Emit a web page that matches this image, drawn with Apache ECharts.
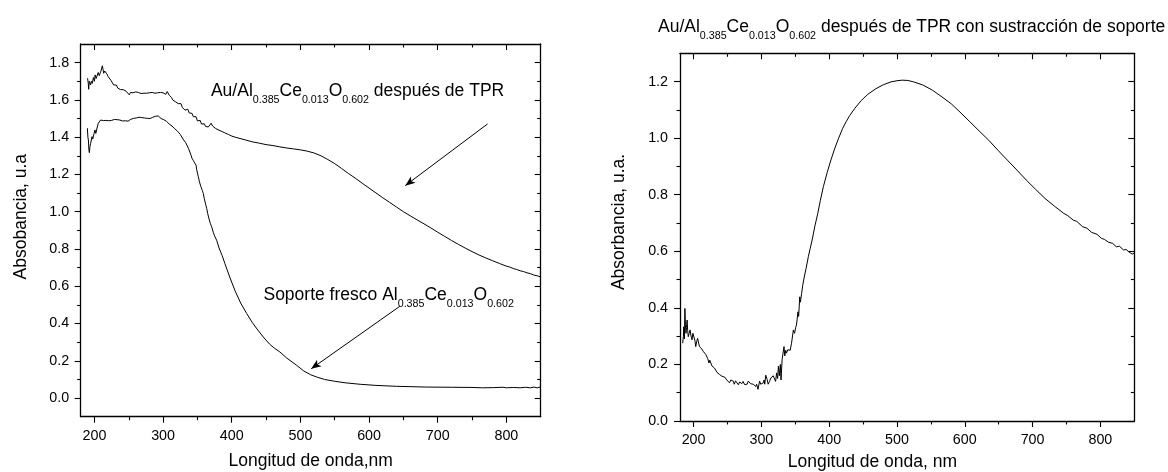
<!DOCTYPE html>
<html><head><meta charset="utf-8">
<script src="https://cdn.jsdelivr.net/npm/echarts@6/dist/echarts.min.js"></script>
<style>html,body{margin:0;padding:0;background:#fff}#c{width:1168px;height:472px}</style>
</head><body><div id="c"></div>
<script>
// ---------- data ----------
const xMajorTicks = [200, 300, 400, 500, 600, 700, 800];
const xMinorTicks = [250, 350, 450, 550, 650, 750];
const yMajorLeft = [0, 0.2, 0.4, 0.6, 0.8, 1.0, 1.2, 1.4, 1.6, 1.8];
const yMinorLeft = [0.1, 0.3, 0.5, 0.7, 0.9, 1.1, 1.3, 1.5, 1.7];
const yMajorRight = [0, 0.2, 0.4, 0.6, 0.8, 1.0, 1.2];
const yMinorRight = [0.1, 0.3, 0.5, 0.7, 0.9, 1.1];

// Au/Al0.385Ce0.013O0.602 después de TPR  [wavelength nm, absorbance]
const auTpr = [[190,1.716],[191,1.69],[191.6,1.657],[192.5,1.70],[193.5,1.707],[194.5,1.68],[195.5,1.70],[197,1.689],[198.5,1.72],[200,1.70],[201,1.734],[202.5,1.715],[204,1.707],[205.5,1.747],[207,1.73],[208.5,1.745],[210,1.76],[211.5,1.783],[212.5,1.765],[213.5,1.743],[215,1.755],[216.5,1.752],[218,1.74],[220,1.725],[222,1.72],[224,1.705],[226,1.70],[228,1.68],[230,1.675],[232,1.68],[234,1.663],[236,1.665],[238,1.655],[240,1.65],[242,1.655],[244,1.645],[246,1.647],[248,1.64],[250.8,1.627],[252.5,1.64],[254,1.645],[256,1.638],[258,1.636],[260,1.643],[262,1.635],[264,1.64],[266,1.639],[268,1.634],[270,1.642],[272,1.636],[274,1.64],[276,1.636],[278,1.643],[280,1.638],[282,1.645],[284,1.64],[286,1.645],[288,1.636],[290,1.642],[292,1.638],[294,1.636],[296,1.64],[298,1.632],[300,1.638],[302,1.636],[304,1.63],[306,1.645],[307.5,1.654],[309,1.625],[310,1.618],[312,1.614],[314,1.60],[316,1.606],[318,1.59],[320,1.591],[322,1.58],[324,1.573],[326,1.58],[328,1.56],[330,1.56],[332,1.545],[334,1.537],[336,1.55],[338,1.53],[340,1.528],[342,1.528],[344,1.51],[346,1.501],[348,1.51],[350,1.487],[352,1.483],[354,1.49],[356,1.47],[358,1.466],[360,1.472],[362,1.457],[364,1.46],[366,1.455],[368,1.462],[370,1.475],[372,1.46],[374,1.45],[376,1.448],[378,1.445],[380,1.44],[383,1.435],[386,1.43],[390,1.423],[395,1.415],[400,1.406],[405,1.400],[412,1.393],[420,1.385],[430,1.375],[440,1.368],[450,1.360],[460,1.355],[470,1.348],[480,1.342],[490,1.337],[500,1.332],[510,1.325],[520,1.315],[530,1.300],[540,1.280],[550,1.258],[560,1.232],[570,1.205],[580,1.180],[590,1.153],[600,1.127],[610,1.101],[620,1.075],[630,1.050],[640,1.025],[650,1.000],[660,0.978],[670,0.956],[680,0.935],[690,0.913],[700,0.890],[710,0.868],[720,0.846],[730,0.825],[740,0.805],[750,0.786],[760,0.768],[770,0.752],[780,0.737],[790,0.722],[800,0.708],[805,0.703],[810,0.695],[815,0.690],[820,0.683],[825,0.679],[830,0.672],[835,0.668],[840,0.660],[845,0.656],[850,0.650]];

// Soporte fresco Al0.385Ce0.013O0.602
const soporte = [[189.7,1.448],[190.5,1.40],[191.2,1.385],[192,1.33],[192.6,1.317],[193.5,1.35],[194.5,1.367],[195.5,1.36],[196.5,1.403],[197.5,1.39],[198.4,1.40],[199.5,1.42],[200.8,1.439],[202,1.42],[203.2,1.43],[204.5,1.46],[205.7,1.475],[207,1.47],[209,1.492],[211,1.485],[213,1.489],[215,1.495],[217,1.49],[219,1.496],[221,1.488],[223,1.494],[225,1.49],[227,1.489],[229,1.495],[231,1.49],[233,1.494],[235,1.488],[237,1.492],[239,1.49],[241,1.487],[243,1.493],[245,1.488],[247,1.489],[249,1.486],[251,1.493],[253,1.496],[255,1.498],[257,1.501],[259,1.497],[261,1.503],[263,1.5],[265,1.507],[267,1.502],[269,1.505],[271,1.499],[273,1.503],[275,1.5],[277,1.501],[279,1.506],[281,1.5],[283,1.503],[285,1.507],[287,1.498],[289,1.512],[291,1.505],[293,1.514],[295,1.508],[297,1.5],[299,1.501],[301,1.494],[303,1.492],[305,1.485],[307,1.478],[309,1.47],[311,1.472],[313,1.46],[315,1.457],[317,1.445],[319,1.44],[321,1.432],[323,1.43],[325,1.415],[327,1.405],[329,1.39],[331,1.385],[333,1.37],[335,1.36],[337,1.34],[339,1.335],[341,1.30],[342,1.287],[344,1.275],[346,1.262],[347,1.26],[348,1.25],[349,1.225],[350,1.215],[351.3,1.188],[353,1.16],[355,1.135],[357,1.115],[358.6,1.098],[360,1.07],[362,1.04],[363.5,1.018],[365,0.99],[367,0.96],[369,0.935],[370.8,0.919],[373,0.89],[375,0.87],[378,0.847],[382,0.80],[386,0.765],[390,0.722],[397,0.65],[405,0.574],[413,0.51],[421.7,0.454],[430,0.405],[438,0.365],[445.9,0.328],[455,0.29],[462,0.268],[470.2,0.247],[480,0.215],[494.5,0.176],[505,0.145],[515,0.125],[523.7,0.113],[535,0.10],[550,0.09],[565,0.082],[587,0.074],[610,0.068],[640,0.063],[684,0.059],[720,0.058],[750,0.057],[765,0.055],[781,0.056],[795,0.058],[800,0.055],[810,0.057],[820,0.055],[828,0.058],[835,0.055],[840,0.059],[845,0.055],[849,0.059],[850,0.056]];

// Au/Al0.385Ce0.013O0.602 después de TPR con sustracción de soporte
const sustraido = [[184,0.275],[185,0.30],[185.5,0.333],[186.5,0.29],[187.2,0.398],[188,0.34],[188.8,0.31],[189.6,0.33],[190.5,0.357],[191.3,0.32],[192.2,0.298],[193.5,0.31],[194.9,0.322],[196.3,0.30],[197.7,0.287],[199,0.31],[200.5,0.305],[202,0.285],[203.2,0.263],[204.5,0.28],[206,0.292],[207.5,0.275],[208.8,0.263],[210.5,0.27],[212,0.255],[214.3,0.246],[216,0.25],[218,0.235],[219.8,0.234],[221,0.22],[222.6,0.205],[224,0.215],[225.4,0.211],[227,0.195],[229,0.19],[230.9,0.187],[233,0.18],[234.5,0.172],[236.4,0.17],[238,0.165],[240,0.16],[242,0.158],[244,0.165],[246,0.155],[247.5,0.152],[249,0.145],[251,0.14],[253,0.135],[255,0.145],[257,0.138],[258.6,0.141],[260,0.13],[262,0.142],[264.1,0.135],[266,0.128],[268,0.138],[269.7,0.141],[271,0.132],[273,0.14],[275.2,0.129],[277,0.136],[279,0.13],[280.7,0.141],[282,0.145],[284,0.132],[286.3,0.138],[288,0.13],[290,0.125],[291.8,0.122],[293,0.13],[295,0.112],[297.4,0.141],[299,0.13],[300.5,0.128],[302.9,0.135],[304,0.145],[305,0.13],[306.5,0.162],[308.5,0.147],[310,0.13],[312,0.14],[314,0.152],[316,0.145],[317.5,0.16],[319.5,0.158],[321,0.14],[322.5,0.17],[324,0.15],[325.1,0.194],[326.5,0.16],[328,0.20],[329,0.145],[330.6,0.217],[332,0.21],[333.4,0.263],[334.5,0.23],[336,0.25],[337,0.24],[339,0.252],[341,0.258],[342.5,0.25],[344.5,0.275],[345.5,0.27],[347.2,0.322],[349,0.31],[350.5,0.33],[351.7,0.339],[352.8,0.36],[353.9,0.386],[355,0.37],[356.6,0.439],[357.5,0.42],[359.4,0.451],[361,0.48],[363.8,0.516],[366,0.54],[369.3,0.581],[372,0.61],[374.9,0.64],[379,0.69],[383.2,0.734],[387,0.78],[391.5,0.829],[397,0.878],[402.6,0.923],[408,0.962],[413.6,0.998],[420,1.035],[425,1.058],[430.3,1.08],[438,1.106],[446.9,1.132],[457,1.155],[469,1.175],[480,1.189],[491.2,1.199],[500,1.203],[507.8,1.205],[516,1.204],[524.4,1.199],[538,1.188],[552.1,1.17],[565,1.148],[579.8,1.122],[593,1.092],[607.5,1.058],[621,1.026],[635.2,0.993],[649,0.957],[662.9,0.922],[677,0.887],[690.6,0.852],[704,0.82],[718.3,0.787],[732,0.76],[746,0.734],[752,0.726],[760,0.71],[765,0.706],[773.7,0.687],[780,0.682],[787,0.667],[795,0.660],[801.4,0.646],[806,0.642],[812,0.632],[818,0.628],[823.5,0.616],[828,0.618],[834,0.605],[838,0.606],[842,0.598],[844.6,0.600],[847,0.590],[850,0.594]];

// annotation anchors (data coordinates of the left panel)
const arrowTPR = [[772.6, 1.471], [652.7, 1.14]];
const arrowSoporte = [[645, 0.493], [515.7, 0.157]];
const labelTPRAt = [369.7, 1.646];
const labelSoporteAt = [446.2, 0.553];

// ---------- chart ----------
const FONT = '"Liberation Sans", Arial, Helvetica, sans-serif';
const BLACK = '#000';

function axes(dim, grid, min, max, major, minor, fmt, labelMargin) {
  const pos = dim === 'x' ? ['bottom', 'top'] : ['left', 'right'];
  const base = { type: 'value', gridIndex: grid, min: min, max: max, splitLine: { show: false }, axisPointer: { show: false } };
  const line = { show: true, onZero: false, lineStyle: { color: BLACK, width: 1.3 } };
  const noLine = { show: false, onZero: false };
  const tk = (vals, len, inside) => ({ show: true, inside: inside, length: len, customValues: vals, lineStyle: { color: BLACK, width: 1.1 } });
  return [
    Object.assign({}, base, { position: pos[0], axisLine: line, axisTick: tk(major, 6, false),
      axisLabel: { show: true, customValues: major, formatter: fmt, margin: labelMargin, fontSize: 14.3, fontFamily: FONT, color: BLACK } }),
    Object.assign({}, base, { position: pos[0], axisLine: noLine, axisTick: tk(minor, 3.5, false), axisLabel: { show: false } }),
    Object.assign({}, base, { position: pos[1], axisLine: line, axisTick: tk(major, 6, true), axisLabel: { show: false } }),
    Object.assign({}, base, { position: pos[1], axisLine: noLine, axisTick: tk(minor, 3.5, true), axisLabel: { show: false } })
  ];
}

const fmtX = v => String(Math.round(v));
const fmtY = v => v.toFixed(1);

const arrowMarkLine = (pair) => ({
  silent: true, animation: false, symbol: ['none', 'arrow'], symbolSize: [6, 10],
  label: { show: false }, emphasis: { disabled: true },
  lineStyle: { color: BLACK, width: 1, type: 'solid' },
  data: [[{ coord: pair[0] }, { coord: pair[1] }]]
});

const lineSeries = (data, xi, yi, extra) => Object.assign({
  type: 'line', xAxisIndex: xi, yAxisIndex: yi, data: data, showSymbol: false, symbol: 'none',
  lineStyle: { color: BLACK, width: 1 }, silent: true, animation: false, z: 3
}, extra || {});

const chart = echarts.init(document.getElementById('c'));
chart.setOption({
  animation: false,
  backgroundColor: '#fff',
  grid: [
    { left: 80.7, top: 44, width: 460, height: 372.7, containLabel: false },
    { left: 680, top: 53.3, width: 454.3, height: 367.7, containLabel: false }
  ],
  xAxis: [].concat(
    axes('x', 0, 180, 850, xMajorTicks, xMinorTicks, fmtX, 12),
    axes('x', 1, 180, 850, xMajorTicks, xMinorTicks, fmtX, 12.5)
  ),
  yAxis: [].concat(
    axes('y', 0, -0.1, 1.9, yMajorLeft, yMinorLeft, fmtY, 11.5),
    axes('y', 1, 0, 1.3, yMajorRight, yMinorRight, fmtY, 12)
  ),
  series: [
    lineSeries(auTpr, 0, 0, { markLine: arrowMarkLine(arrowTPR) }),
    lineSeries(soporte, 0, 0, { markLine: arrowMarkLine(arrowSoporte) }),
    lineSeries(sustraido, 4, 4)
  ]
});

const rich = { s: { fontSize: 10.7, fontFamily: FONT, fill: BLACK, lineHeight: 12, padding: [18, 0, 0, 0] } };
function richText(x, y, text) {
  return { type: 'text', x: x, y: y, silent: true, z: 10,
    style: { text: text, rich: rich, fontSize: 17.5, fontFamily: FONT, fill: BLACK, align: 'left', verticalAlign: 'middle' } };
}
function plainText(x, y, text, rot) {
  return { type: 'text', x: x, y: y, rotation: rot || 0, silent: true, z: 10,
    style: { text: text, fontSize: 17.5, fontFamily: FONT, fill: BLACK, align: 'center', verticalAlign: 'middle' } };
}

const pTPR = chart.convertToPixel({ seriesIndex: 0 }, labelTPRAt);
const pSop = chart.convertToPixel({ seriesIndex: 0 }, labelSoporteAt);

chart.setOption({
  graphic: [
    richText(pTPR[0], pTPR[1], 'Au/Al{s|0.385}Ce{s|0.013}O{s|0.602} después de TPR'),
    richText(pSop[0], pSop[1], 'Soporte fresco Al{s|0.385}Ce{s|0.013}O{s|0.602}'),
    richText(658, 26.8, 'Au/Al{s|0.385}Ce{s|0.013}O{s|0.602} después de TPR con sustracción de soporte'),
    plainText(310.7, 461.2, 'Longitud de onda,nm'),
    plainText(872.4, 462.6, 'Longitud de onda, nm'),
    plainText(21.1, 216.7, 'Absobancia, u.a', Math.PI / 2),
    plainText(618.8, 222, 'Absorbancia, u.a.', Math.PI / 2)
  ]
});
</script>
</body></html>
